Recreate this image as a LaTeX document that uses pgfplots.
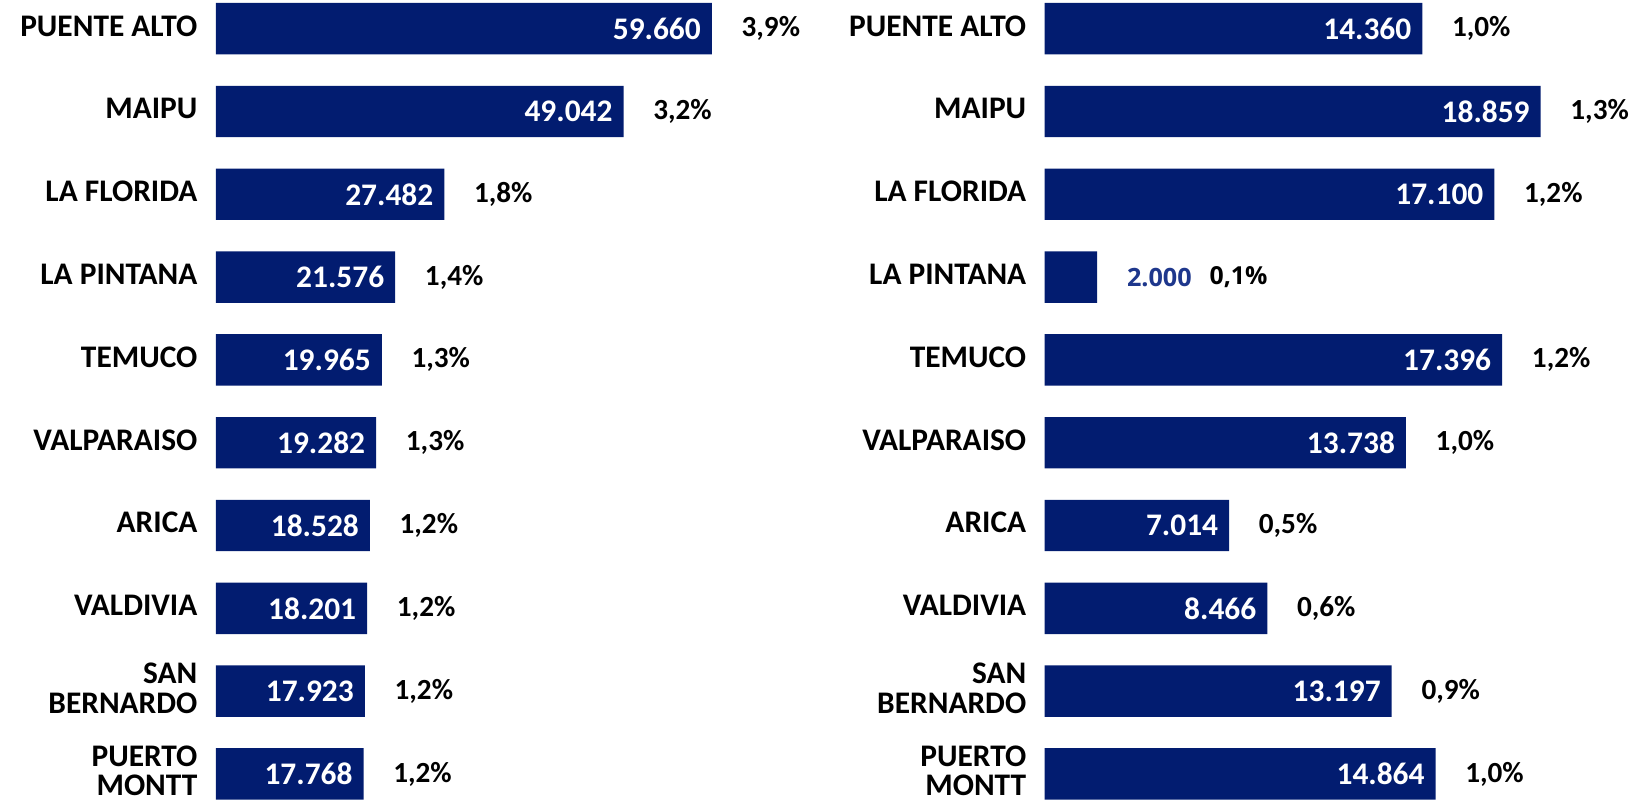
\documentclass[border=0pt]{standalone}
\usepackage{pgfplots}
\pgfplotsset{compat=1.18}
\usepackage{fontspec}
\setmainfont{Carlito}
\newfontfamily\osans{Open Sans}
\definecolor{barblue}{RGB}{2,28,112}
\definecolor{lblblue}{RGB}{30,55,140}

\pgfplotsset{panel/.style={
  scale only axis, width=248pt, height=398.3pt, xmin=0, ymin=-0.31, ymax=9.31, y dir=reverse,
  axis line style={draw=none}, tick style={draw=none}, xtick=\empty, ytick={0,...,9},
  yticklabels={PUENTE ALTO, MAIPU, LA FLORIDA, LA PINTANA, TEMUCO, VALPARAISO, ARICA, VALDIVIA, {SAN\\BERNARDO}, {PUERTO\\MONTT}},
  yticklabel style={align=right, inner sep=0pt, xshift=-9pt, yshift=1.4pt, font=\bfseries\fontsize{15.7}{14.6}\selectfont},
  clip=false, anchor=south west,
},
vallab/.style={draw=none, nodes near coords, point meta=explicit symbolic,
  nodes near coords style={anchor=east, xshift=-5.3pt, inner sep=0pt, text=white, font=\bfseries\fontsize{15.7}{18}\selectfont}},
pctlab/.style={draw=none, nodes near coords={\pgfplotspointmeta\%}, point meta=explicit symbolic,
  nodes near coords style={anchor=west, xshift=#1, inner sep=0pt, text=black, font=\bfseries\fontsize{14.6}{18}\selectfont}},
}

\begin{document}
\begin{tikzpicture}
\useasboundingbox (0,0) rectangle (823.5pt,401pt);

% Left panel
\begin{axis}[panel, at={(107.9pt,1.2pt)}, xmax=59660]
\addplot[xbar, fill=barblue, draw=none, bar width=25.7pt] table[x=v,y=i] {
i v
0 59660
1 49042
2 27482
3 21576
4 19965
5 19282
6 18528
7 18201
8 17923
9 17768
};
\addplot[vallab] table[x=v,y=i,meta=l] {
i v l
0 59660 59.660
1 49042 49.042
2 27482 27.482
3 21576 21.576
4 19965 19.965
5 19282 19.282
6 18528 18.528
7 18201 18.201
8 17923 17.923
9 17768 17.768
};
\addplot[pctlab=14.7pt] table[x=v,y=i,meta=p] {
i v p
0 59660 3,9
1 49042 3,2
2 27482 1,8
3 21576 1,4
4 19965 1,3
5 19282 1,3
6 18528 1,2
7 18201 1,2
8 17923 1,2
9 17768 1,2
};
\end{axis}

% Right panel
\begin{axis}[panel, at={(522.3pt,1.2pt)}, xmax=18859]
\addplot[xbar, fill=barblue, draw=none, bar width=25.7pt] table[x=v,y=i] {
i v
0 14360
1 18859
2 17100
3 2000
4 17396
5 13738
6 7014
7 8466
8 13197
9 14864
};
\addplot[vallab] table[x=v,y=i,meta=l] {
i v l
0 14360 14.360
1 18859 18.859
2 17100 17.100
4 17396 17.396
5 13738 13.738
6 7014 7.014
7 8466 8.466
8 13197 13.197
9 14864 14.864
};
\addplot[draw=none, nodes near coords, point meta=explicit symbolic,
  nodes near coords style={anchor=west, xshift=14.7pt, inner sep=0pt, text=lblblue, font=\osans\bfseries\fontsize{12.6}{16}\selectfont}]
  table[x=v,y=i,meta=l] {
i v l
3 2000 2.000
};
\addplot[pctlab=14.7pt] table[x=v,y=i,meta=p] {
i v p
0 14360 1,0
1 18859 1,3
2 17100 1,2
4 17396 1,2
5 13738 1,0
6 7014 0,5
7 8466 0,6
8 13197 0,9
9 14864 1,0
};
\addplot[draw=none, nodes near coords={\pgfplotspointmeta\%}, point meta=explicit symbolic,
  nodes near coords style={anchor=west, xshift=56pt, inner sep=0pt, text=black, font=\osans\bfseries\fontsize{12.4}{16}\selectfont}]
  table[x=v,y=i,meta=p] {
i v p
3 2000 0,1
};
\end{axis}
\end{tikzpicture}
\end{document}
